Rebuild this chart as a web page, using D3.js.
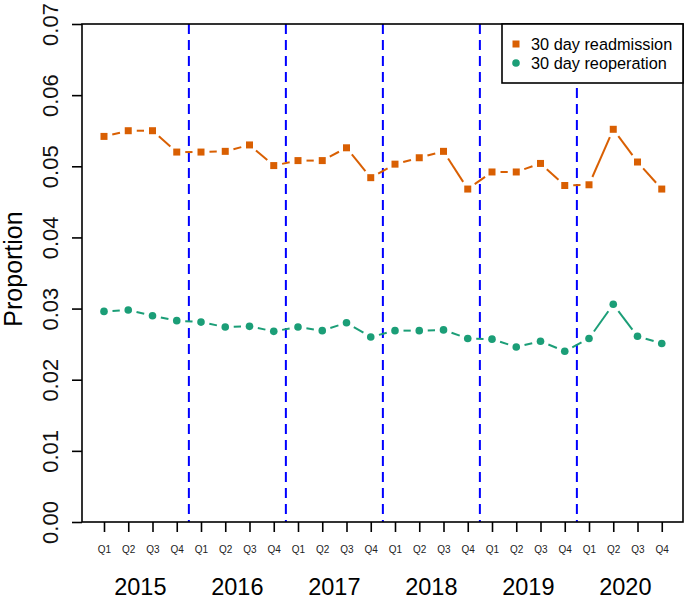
<!DOCTYPE html>
<html>
<head>
<meta charset="utf-8">
<script src="https://cdn.jsdelivr.net/npm/d3@7"></script>
<style>
  body { margin: 0; background: #fff; }
  text { font-family: "Liberation Sans", Arial, sans-serif; }
</style>
</head>
<body>
<div id="chart"></div>
<script>
'use strict';

// quarters 1..24, 2015 Q1 to 2020 Q4
const years = ['2015', '2016', '2017', '2018', '2019', '2020'];
const quarters = ['Q1', 'Q2', 'Q3', 'Q4'];
const yTicks = [0, 0.01, 0.02, 0.03, 0.04, 0.05, 0.06, 0.07];

const readmission = [0.0542, 0.0550, 0.0550, 0.0520, 0.0520, 0.0521, 0.0530, 0.0501,
    0.0508, 0.0508, 0.0526, 0.0484, 0.0503, 0.0512, 0.0521, 0.0468,
    0.0492, 0.0492, 0.0504, 0.0473, 0.0474, 0.0552, 0.0506, 0.0468];
const reoperation = [0.0296, 0.0298, 0.0290, 0.0283, 0.0281, 0.0274, 0.0275, 0.0268,
    0.0274, 0.0269, 0.0280, 0.0260, 0.0269, 0.0269, 0.0270, 0.0258,
    0.0257, 0.0246, 0.0254, 0.0240, 0.0258, 0.0306, 0.0261, 0.0251];
const yearBreaks = [4.5, 8.5, 12.5, 16.5, 20.5];

const orange = '#D95F02', green = '#1B9E77';

const width = 685, height = 600;
const plot = {left: 82, right: 683, top: 24, bottom: 522};

const svg = d3.select('#chart').append('svg')
    .attr('width', width)
    .attr('height', height);

const x = d3.scaleLinear().domain([0.093, 24.876]).range([plot.left, plot.right]);
const y = d3.scaleLinear().domain([0, 0.07]).range([plot.bottom, plot.top]);

// y axis
svg.append('g')
    .attr('transform', 'translate(' + plot.left + ',0)')
    .call(d3.axisLeft(y).tickValues(yTicks).tickSize(10).tickFormat(d3.format('.2f')))
    .call(g => g.select('.domain').remove())
    .call(g => g.selectAll('line').attr('stroke', '#000').attr('stroke-width', 1.6))
    .call(g => g.selectAll('text')
        .attr('x', null).attr('dy', null)
        .attr('transform', 'translate(-24,0) rotate(-90)')
        .style('text-anchor', 'middle')
        .attr('font-size', 22)
        .attr('fill', '#111'));

// x axis with quarter labels
const idx = d3.range(1, 25);
svg.append('g')
    .attr('transform', 'translate(0,' + plot.bottom + ')')
    .call(d3.axisBottom(x).tickValues(idx).tickSize(10)
        .tickFormat(d => quarters[(d - 1) % 4]))
    .call(g => g.select('.domain').remove())
    .call(g => g.selectAll('line').attr('stroke', '#000').attr('stroke-width', 1.6))
    .call(g => g.selectAll('text')
        .attr('y', 31)
        .attr('dy', null)
        .attr('font-size', 10)
        .attr('fill', '#222'));

// year labels
svg.append('g').selectAll('text')
    .data(years)
    .enter().append('text')
    .attr('x', (d, i) => x(i * 4 + 2.5))
    .attr('y', 595)
    .attr('text-anchor', 'middle')
    .attr('font-size', 23.5)
    .attr('fill', '#000')
    .text(d => d);

// y label
svg.append('text')
    .attr('transform', 'translate(22,269) rotate(-90)')
    .attr('text-anchor', 'middle')
    .attr('font-size', 25)
    .text('Proportion');

// year separators
svg.append('g').selectAll('line')
    .data(yearBreaks)
    .enter().append('line')
    .attr('x1', d => x(d)).attr('x2', d => x(d))
    .attr('y1', plot.top).attr('y2', plot.bottom)
    .attr('stroke', '#0000FF')
    .attr('stroke-width', 2)
    .attr('stroke-dasharray', '10,6');

// lines with gaps around the points (type = "b")
function drawSeries(values, color) {
    const pts = values.map((v, i) => [x(i + 1), y(v)]);
    const gap = 8.5;
    const segs = [];
    for (let i = 0; i < pts.length - 1; i++) {
        const [x0, y0] = pts[i], [x1, y1] = pts[i + 1];
        const len = Math.hypot(x1 - x0, y1 - y0);
        if (len <= 2 * gap) continue;
        const ux = (x1 - x0) / len, uy = (y1 - y0) / len;
        segs.push([x0 + ux * gap, y0 + uy * gap, x1 - ux * gap, y1 - uy * gap]);
    }
    svg.append('g').selectAll('line')
        .data(segs)
        .enter().append('line')
        .attr('x1', d => d[0]).attr('y1', d => d[1])
        .attr('x2', d => d[2]).attr('y2', d => d[3])
        .attr('stroke', color)
        .attr('stroke-width', 2);
}
drawSeries(readmission, orange);
drawSeries(reoperation, green);

svg.append('g').selectAll('rect')
    .data(readmission)
    .enter().append('rect')
    .attr('x', (d, i) => x(i + 1) - 3.5)
    .attr('y', d => y(d) - 3.5)
    .attr('width', 7).attr('height', 7)
    .attr('fill', orange);

svg.append('g').selectAll('circle')
    .data(reoperation)
    .enter().append('circle')
    .attr('cx', (d, i) => x(i + 1))
    .attr('cy', d => y(d))
    .attr('r', 3.8)
    .attr('fill', green);

// plot box
svg.append('rect')
    .attr('x', plot.left).attr('y', plot.top)
    .attr('width', plot.right - plot.left).attr('height', plot.bottom - plot.top)
    .attr('fill', 'none')
    .attr('stroke', '#000')
    .attr('stroke-width', 1.6);

// legend
const legend = svg.append('g');
legend.append('rect')
    .attr('x', 502).attr('y', plot.top)
    .attr('width', plot.right - 502).attr('height', 59)
    .attr('fill', '#fff')
    .attr('stroke', '#000')
    .attr('stroke-width', 1.6);
legend.append('rect')
    .attr('x', 516 - 3.5).attr('y', 44 - 3.5)
    .attr('width', 7).attr('height', 7)
    .attr('fill', orange);
legend.append('circle')
    .attr('cx', 516).attr('cy', 63).attr('r', 3.8)
    .attr('fill', green);
legend.selectAll('text')
    .data(['30 day readmission', '30 day reoperation'])
    .enter().append('text')
    .attr('x', 531)
    .attr('y', (d, i) => 49.5 + i * 19)
    .attr('font-size', 16.3)
    .text(d => d);
</script>
</body>
</html>
